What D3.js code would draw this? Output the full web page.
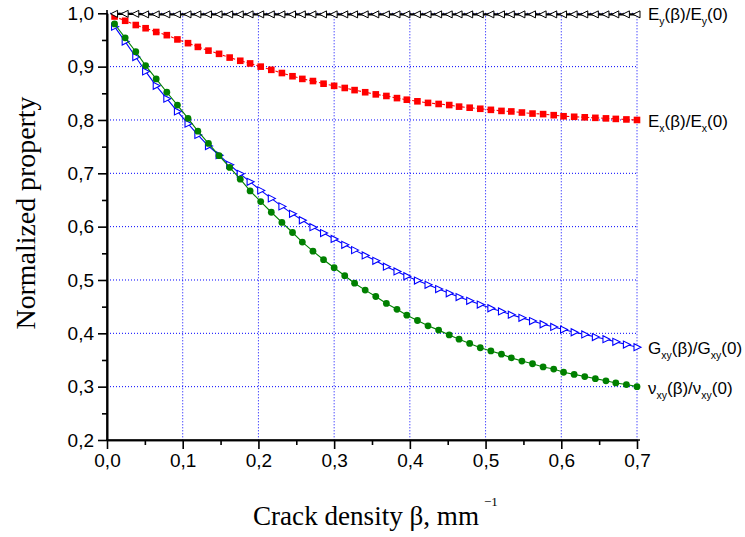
<!DOCTYPE html>
<html>
<head>
<meta charset="utf-8">
<script src="https://cdn.jsdelivr.net/npm/d3@7"></script>
<style>
  body { margin: 0; background: #fff; }
  svg { display: block; }
</style>
</head>
<body>
<svg id="chart" width="745" height="537"></svg>
<script>
// Crack density values (mm^-1)
const beta = [0.010,0.024,0.038,0.051,0.065,0.079,0.093,0.107,0.120,0.134,
              0.148,0.162,0.176,0.189,0.203,0.217,0.231,0.245,0.258,0.272,
              0.286,0.300,0.314,0.327,0.341,0.355,0.369,0.383,0.396,0.410,
              0.424,0.438,0.452,0.465,0.479,0.493,0.507,0.521,0.534,0.548,
              0.562,0.576,0.590,0.603,0.617,0.631,0.645,0.659,0.672,0.686,0.700];

// Normalized properties
const eyRatio = [0.999,0.999,0.999,0.998,0.998,0.998,0.998,0.998,0.998,0.998,
                 0.998,0.998,0.998,0.998,0.998,0.998,0.998,0.998,0.998,0.998,
                 0.998,0.998,0.998,0.998,0.998,0.998,0.998,0.998,0.998,0.998,
                 0.998,0.998,0.998,0.998,0.998,0.998,0.998,0.998,0.998,0.998,
                 0.998,0.998,0.998,0.998,0.998,0.998,0.998,0.998,0.998,0.998,0.998];
const exRatio = [0.994,0.986,0.978,0.972,0.965,0.959,0.951,0.944,0.937,0.930,
                 0.924,0.917,0.911,0.906,0.900,0.894,0.888,0.882,0.877,0.873,
                 0.868,0.864,0.860,0.856,0.852,0.848,0.845,0.841,0.838,0.835,
                 0.832,0.830,0.828,0.825,0.823,0.821,0.819,0.817,0.816,0.814,
                 0.812,0.811,0.809,0.807,0.806,0.805,0.804,0.803,0.802,0.801,0.800];
const gxyRatio = [0.975,0.947,0.918,0.891,0.864,0.840,0.816,0.793,0.772,0.751,
                  0.734,0.716,0.699,0.684,0.668,0.653,0.638,0.624,0.612,0.599,
                  0.588,0.577,0.566,0.556,0.546,0.536,0.525,0.516,0.507,0.499,
                  0.491,0.483,0.475,0.468,0.461,0.454,0.447,0.441,0.435,0.429,
                  0.423,0.417,0.412,0.407,0.402,0.398,0.393,0.389,0.384,0.379,0.374];
const nuxyRatio = [0.980,0.954,0.928,0.902,0.877,0.852,0.828,0.803,0.779,0.756,
                   0.733,0.711,0.689,0.667,0.647,0.627,0.608,0.589,0.571,0.554,
                   0.538,0.523,0.508,0.494,0.481,0.469,0.456,0.445,0.434,0.424,
                   0.414,0.406,0.397,0.389,0.381,0.373,0.367,0.361,0.354,0.348,
                   0.343,0.337,0.333,0.327,0.323,0.319,0.315,0.311,0.307,0.304,0.300];

// Axis ticks
const xTicks = [0.0,0.1,0.2,0.3,0.4,0.5,0.6,0.7];
const xTickLabels = ["0,0","0,1","0,2","0,3","0,4","0,5","0,6","0,7"];
const xMinorTicks = [0.05,0.15,0.25,0.35,0.45,0.55,0.65];
const yTicks = [0.2,0.3,0.4,0.5,0.6,0.7,0.8,0.9,1.0];
const yTickLabels = ["0,2","0,3","0,4","0,5","0,6","0,7","0,8","0,9","1,0"];
const yMinorTicks = [0.25,0.35,0.45,0.55,0.65,0.75,0.85,0.95];

const svg = d3.select("#chart");
const x = d3.scaleLinear().domain([0, 0.7]).range([107, 637]);
const y = d3.scaleLinear().domain([0.2, 1.0]).range([440, 13.3]);

const sans = "'Liberation Sans', Arial, sans-serif";
const serif = "'Liberation Serif', 'Times New Roman', serif";

// Dotted grid
const grid = svg.append("g").attr("stroke", "#0000ff").attr("stroke-width", 1)
  .attr("stroke-dasharray", "1,2").attr("fill", "none");
grid.selectAll("line.v").data(xTicks.slice(1)).join("line")
  .attr("x1", d => x(d)).attr("x2", d => x(d))
  .attr("y1", y(1.0)).attr("y2", y(0.2));
grid.selectAll("line.h").data(yTicks.slice(1)).join("line")
  .attr("x1", x(0)).attr("x2", x(0.7))
  .attr("y1", d => y(d)).attr("y2", d => y(d));

// Axes
const xAxis = d3.axisBottom(x).tickValues(xTicks)
  .tickFormat((d, i) => xTickLabels[i]).tickSize(9).tickSizeOuter(0).tickPadding(5);
const xMinor = d3.axisBottom(x).tickValues(xMinorTicks).tickFormat("").tickSize(5).tickSizeOuter(0);
const yAxis = d3.axisLeft(y).tickValues(yTicks)
  .tickFormat((d, i) => yTickLabels[i]).tickSize(9).tickSizeOuter(0).tickPadding(4);
const yMinor = d3.axisLeft(y).tickValues(yMinorTicks).tickFormat("").tickSize(5).tickSizeOuter(0);

function styleAxis(g) {
  g.selectAll("path, line").attr("stroke", "#000").attr("stroke-width", 1.6);
  g.selectAll("text").attr("font-family", sans).attr("font-size", 19).attr("fill", "#000");
}
svg.append("g").attr("transform", "translate(0,440)").call(xMinor).call(styleAxis);
svg.append("g").attr("transform", "translate(0,440)").call(xAxis).call(styleAxis);
svg.append("g").attr("transform", "translate(107,0)").call(yMinor).call(styleAxis);
svg.append("g").attr("transform", "translate(107,0)").call(yAxis).call(styleAxis);
// extend axis lines slightly past the data range
svg.append("line").attr("x1", 107).attr("x2", 107).attr("y1", 10).attr("y2", 441)
  .attr("stroke", "#000").attr("stroke-width", 1.6);
svg.append("line").attr("x1", 106).attr("x2", 640).attr("y1", 440).attr("y2", 440)
  .attr("stroke", "#000").attr("stroke-width", 1.6);

// Series
const line = d3.line().x(d => x(d[0])).y(d => y(d[1]));
const pts = vals => beta.map((b, i) => [b, vals[i]]);

const triLeft = "M-4,0L3,-3.5L3,3.5Z";
const triRight = "M4,0L-3,-3.5L-3,3.5Z";

// G_xy
svg.append("path").datum(pts(gxyRatio)).attr("d", line)
  .attr("fill", "none").attr("stroke", "#0000ff").attr("stroke-width", 1.1);
svg.append("g").selectAll("path").data(pts(gxyRatio)).join("path")
  .attr("d", triRight)
  .attr("transform", d => `translate(${x(d[0])},${y(d[1])})`)
  .attr("fill", "#fff").attr("stroke", "#0000ff").attr("stroke-width", 1.1);

// nu_xy
svg.append("path").datum(pts(nuxyRatio)).attr("d", line)
  .attr("fill", "none").attr("stroke", "#008000").attr("stroke-width", 1.1);
svg.append("g").selectAll("circle").data(pts(nuxyRatio)).join("circle")
  .attr("cx", d => x(d[0])).attr("cy", d => y(d[1])).attr("r", 3.4)
  .attr("fill", "#008000");

// E_x
svg.append("path").datum(pts(exRatio)).attr("d", line)
  .attr("fill", "none").attr("stroke", "#ff0000").attr("stroke-width", 1.1)
  .attr("stroke-dasharray", "3,2");
svg.append("g").selectAll("rect").data(pts(exRatio)).join("rect")
  .attr("x", d => x(d[0]) - 3.3).attr("y", d => y(d[1]) - 3.3)
  .attr("width", 6.6).attr("height", 6.6).attr("fill", "#ff0000");

// E_y
svg.append("path").datum(pts(eyRatio)).attr("d", line)
  .attr("fill", "none").attr("stroke", "#000").attr("stroke-width", 2.4);
svg.append("g").selectAll("path").data(pts(eyRatio)).join("path")
  .attr("d", triLeft)
  .attr("transform", d => `translate(${x(d[0])},${y(d[1])})`)
  .attr("fill", "#fff").attr("stroke", "#000").attr("stroke-width", 1);

// Curve labels
function label(yPos, parts) {
  const t = svg.append("text").attr("x", 648).attr("y", yPos)
    .attr("font-family", sans).attr("font-size", 17).attr("fill", "#000");
  let shifted = false;
  parts.forEach(p => {
    const s = t.append("tspan").text(p[0]);
    if (p[1] && !shifted) { s.attr("dy", 5).attr("font-size", 10.5); shifted = true; }
    else if (p[1]) { s.attr("font-size", 10.5); }
    else if (shifted) { s.attr("dy", -5); shifted = false; }
  });
}
label(20, [["E"],["y",1],["(β)/E"],["y",1],["(0)"]]);
label(127, [["E"],["x",1],["(β)/E"],["x",1],["(0)"]]);
label(354, [["G"],["xy",1],["(β)/G"],["xy",1],["(0)"]]);
label(394, [["ν"],["xy",1],["(β)/ν"],["xy",1],["(0)"]]);

// Axis titles
svg.append("text").attr("transform", "translate(35,213) rotate(-90)")
  .attr("text-anchor", "middle").attr("font-family", serif).attr("font-size", 27)
  .attr("textLength", 233).attr("lengthAdjust", "spacingAndGlyphs")
  .text("Normalized property");
svg.append("text").attr("x", 253).attr("y", 525)
  .attr("font-family", serif).attr("font-size", 27)
  .attr("textLength", 226).attr("lengthAdjust", "spacingAndGlyphs")
  .text("Crack density β, mm");
svg.append("text").attr("x", 484).attr("y", 506)
  .attr("font-family", serif).attr("font-size", 13)
  .text("−1");
</script>
</body>
</html>
